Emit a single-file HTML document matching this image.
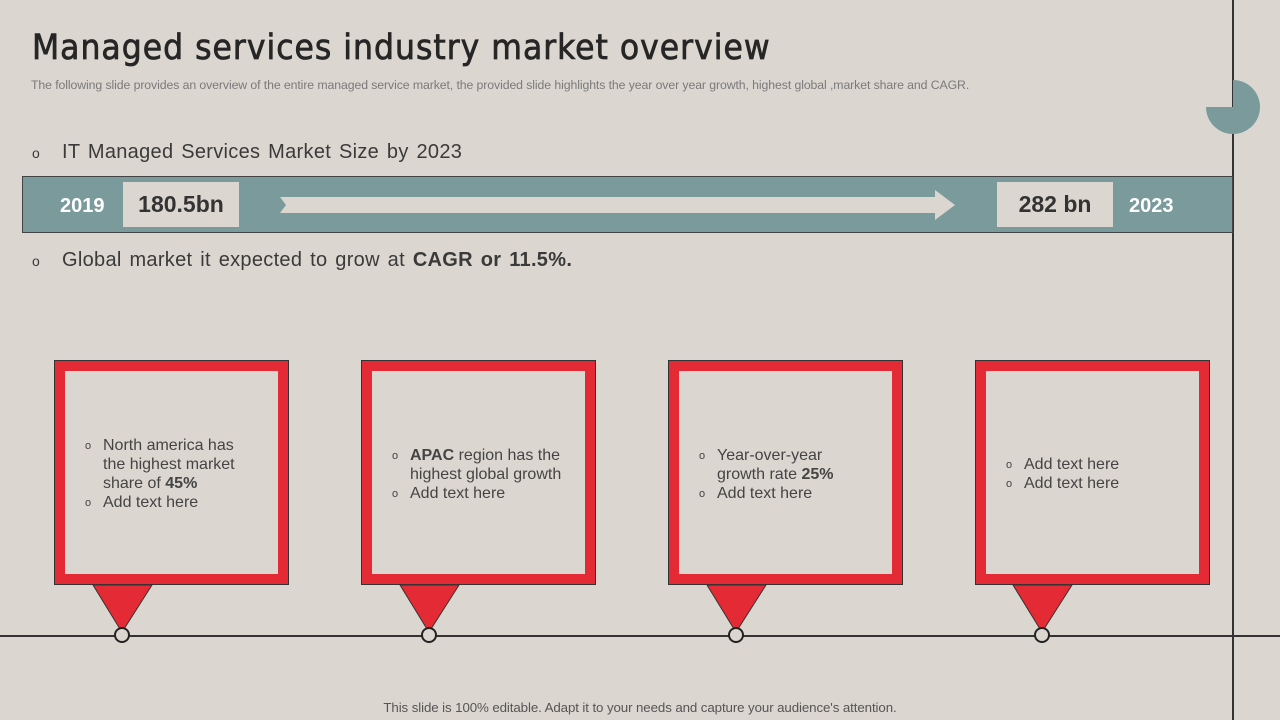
<!DOCTYPE html>
<html><head><meta charset="utf-8"><style>
*{margin:0;padding:0;box-sizing:border-box}
body{width:1280px;height:720px;background:#dbd7d0;position:relative;overflow:hidden;font-family:"Liberation Sans",sans-serif;color:#3a3a3a}
.a{position:absolute}
.title{left:32px;top:28px;font-size:35px;color:#262626;letter-spacing:1.0px;font-family:"DejaVu Sans Condensed","Liberation Sans",sans-serif;white-space:nowrap;-webkit-text-stroke:0.7px #262626}
.sub{left:31px;top:78px;font-size:12.3px;color:#7a7a7a;white-space:nowrap;letter-spacing:-0.1px}
.bul{font-size:20px;white-space:nowrap;color:#3a3a3a;letter-spacing:0.3px;word-spacing:2px}
.bul .o{position:absolute;left:0;top:4px;font-size:14px}
.bul .t{position:absolute;left:30px;top:0}
.box{width:235px;height:225px;background:#e42b35;border:1px solid #333;top:360px}
.inner{position:absolute;left:10px;top:10px;width:213px;height:203px;background:#dbd7d0}
.txt{position:absolute;font-size:16px;line-height:19px;color:#444}
.txt div{position:relative;padding-left:18px}
.txt div span.o{position:absolute;left:0;top:1px;font-size:11px}
</style></head><body>
<div class="a title">Managed services industry market overview</div>
<div class="a sub">The following slide provides an overview of the entire managed service market, the provided slide highlights the year over year growth, highest global ,market share and CAGR.</div>
<div class="a" style="left:1232px;top:0;width:1.5px;height:720px;background:#333"></div>
<div class="a" style="left:0;top:635px;width:1280px;height:1.5px;background:#333"></div>
<svg class="a" style="left:1200px;top:75px" width="70" height="70"><path d="M33 32 L33 5 A27 27 0 1 1 6 32 Z" fill="#7a9a9c"/></svg>
<div class="a bul" style="left:32px;top:141px;width:600px;height:26px"><span class="o">o</span><span class="t">IT Managed Services Market Size by 2023</span></div>
<div class="a" style="left:22px;top:176px;width:1211px;height:57px;background:#7a9a9c;border:1px solid #444"></div>
<div class="a" style="left:60px;top:195px;font-size:20px;font-weight:bold;color:#fff">2019</div>
<div class="a" style="left:123px;top:182px;width:116px;height:45px;background:#dbd7d0;font-size:23px;font-weight:bold;text-align:center;line-height:45px;color:#333">180.5bn</div>
<svg class="a" style="left:278px;top:188px" width="680" height="34"><path d="M2 9 L657 9 L657 2 L677 17 L657 32 L657 25 L2 25 L8 17 Z" fill="#dbd7d0"/></svg>
<div class="a" style="left:997px;top:182px;width:116px;height:45px;background:#dbd7d0;font-size:23px;font-weight:bold;text-align:center;line-height:45px;color:#333">282 bn</div>
<div class="a" style="left:1129px;top:195px;font-size:20px;font-weight:bold;color:#fff">2023</div>
<div class="a bul" style="left:32px;top:249px;width:700px;height:26px"><span class="o">o</span><span class="t">Global market it expected to grow at <b>CAGR or 11.5%.</b></span></div>

<div class="a box" style="left:54px"><div class="inner"></div>
<div class="txt" style="left:30px;top:75px"><div><span class="o">o</span>North america has<br>the highest market<br>share of <b>45%</b></div><div><span class="o">o</span>Add text here</div></div></div>
<div class="a box" style="left:361px"><div class="inner"></div>
<div class="txt" style="left:30px;top:85px"><div><span class="o">o</span><b>APAC</b> region has the<br>highest global growth</div><div><span class="o">o</span>Add text here</div></div></div>
<div class="a box" style="left:668px"><div class="inner"></div>
<div class="txt" style="left:30px;top:85px"><div><span class="o">o</span>Year-over-year<br>growth rate <b>25%</b></div><div><span class="o">o</span>Add text here</div></div></div>
<div class="a box" style="left:975px"><div class="inner"></div>
<div class="txt" style="left:30px;top:94px"><div><span class="o">o</span>Add text here</div><div><span class="o">o</span>Add text here</div></div></div>

<svg class="a" style="left:0;top:584px" width="1232" height="62">
<g fill="#e42b35" stroke="#333" stroke-width="1">
<path d="M93 1 L152 1 L124 45 L120 45 Z"/><path d="M400 1 L459 1 L431 45 L427 45 Z"/><path d="M707 1 L766 1 L738 45 L734 45 Z"/><path d="M1013 1 L1072 1 L1044 45 L1040 45 Z"/>
</g>
<g fill="#dbd7d0" stroke="#222" stroke-width="2">
<circle cx="122" cy="51" r="7"/><circle cx="429" cy="51" r="7"/><circle cx="736" cy="51" r="7"/><circle cx="1042" cy="51" r="7"/>
</g></svg>
<div class="a" style="left:0;width:1280px;text-align:center;top:700px;font-size:13.3px;color:#555;letter-spacing:-0.1px">This slide is 100% editable. Adapt it to your needs and capture your audience's attention.</div>
</body></html>
